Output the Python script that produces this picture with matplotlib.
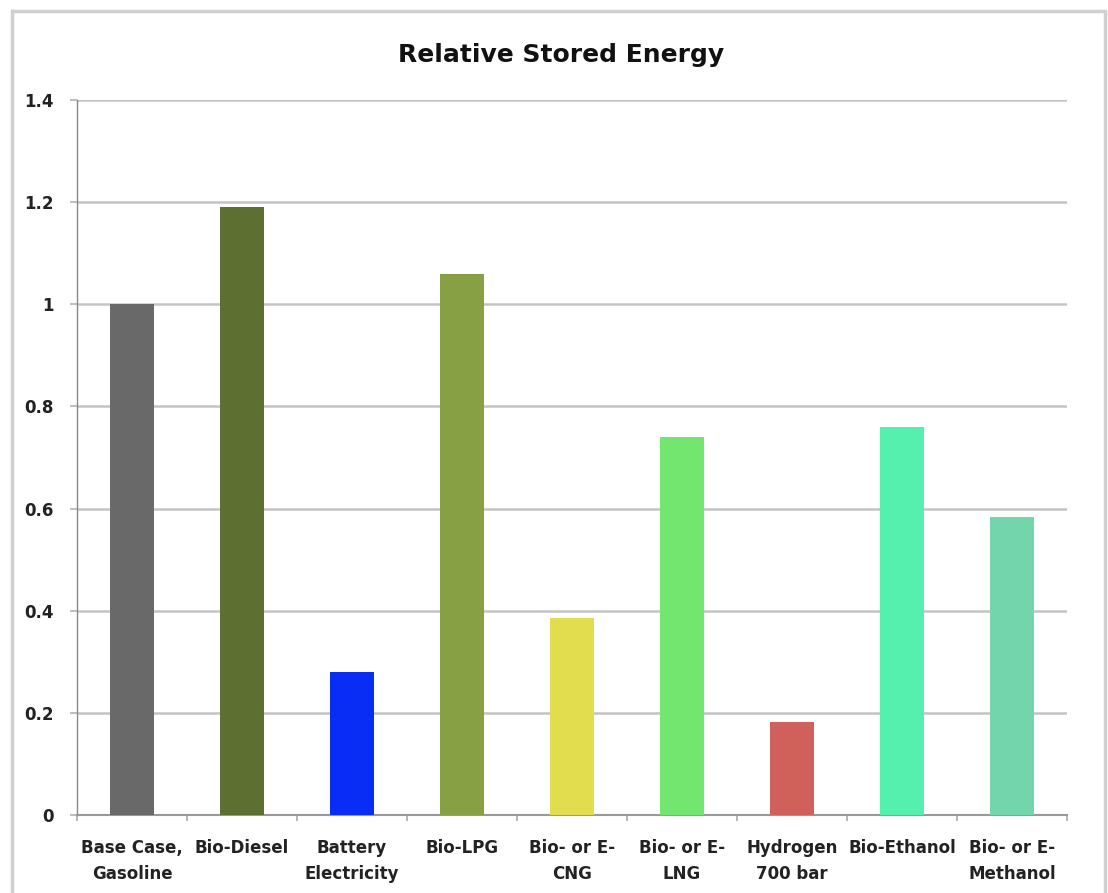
import numpy as np
import matplotlib
matplotlib.use("Agg")
import matplotlib.pyplot as plt
from matplotlib.patches import Rectangle

# values
fuels = ["Base Case,\nGasoline", "Bio-Diesel", "Battery\nElectricity", "Bio-LPG",
         "Bio- or E-\nCNG", "Bio- or E-\nLNG", "Hydrogen\n700 bar", "Bio-Ethanol",
         "Bio- or E-\nMethanol"]
stored_energy = [1.0, 1.19, 0.28, 1.06, 0.386, 0.741, 0.183, 0.76, 0.584]
bar_colors = ["#696969", "#5e7031", "#0a2df5", "#86a043", "#e2dd4f",
              "#72e66e", "#d0605a", "#55f0ae", "#72d5ab"]
y_ticks = [0, 0.2, 0.4, 0.6, 0.8, 1.0, 1.2, 1.4]
y_labels = ["0", "0.2", "0.4", "0.6", "0.8", "1", "1.2", "1.4"]

plt.rcParams['font.family'] = ['DejaVu Sans']
plt.rcParams['font.weight'] = 'bold'

fig = plt.figure(figsize=(11.08, 8.93), dpi=100)
fig.patch.set_facecolor("white")

# outer chart frame
fig.patches.append(Rectangle((12 / 1108, -0.05), (1105 - 12) / 1108, 1.05 - 11 / 893,
                             transform=fig.transFigure, fill=False,
                             edgecolor="#d0d0d0", linewidth=2.5))

ax = fig.add_axes([77 / 1108, 1 - 815 / 893, (1067 - 77) / 1108, (815 - 100) / 893])

x = np.arange(len(fuels))
ax.bar(x, stored_energy, width=0.4, color=bar_colors, zorder=3)

ax.set_xlim(-0.5, len(fuels) - 0.5)
ax.set_ylim(0, 1.4)
ax.set_yticks(y_ticks)
ax.set_yticklabels(y_labels, fontsize=12, fontweight='bold')
ax.set_xticks(x)
ax.set_xticklabels(fuels, fontsize=12, fontweight='bold', linespacing=1.6)
ax.set_xticks(np.arange(-0.5, len(fuels), 1.0), minor=True)

ax.tick_params(axis='x', which='major', length=0, pad=17, colors="#222222")
ax.tick_params(axis='x', which='minor', length=4, width=1.2, color="#aaaaaa")
ax.tick_params(axis='y', length=5, width=1.5, pad=12, colors="#222222")
ax.tick_params(axis='y', color="#c0c0c0")

ax.yaxis.grid(True, color="#c4c4c4", linewidth=1.8, zorder=0)
ax.set_axisbelow(True)

for side in ["top", "right"]:
    ax.spines[side].set_visible(False)
ax.spines["left"].set_color("#888888")
ax.spines["left"].set_linewidth(1.0)
ax.spines["bottom"].set_color("#999999")
ax.spines["bottom"].set_linewidth(1.5)

fig.text(0.506, 1 - 55 / 893, "Relative Stored Energy", ha="center", va="center",
         fontsize=18, fontweight="bold", color="#111111")

fig.savefig("out.png", dpi=100)
